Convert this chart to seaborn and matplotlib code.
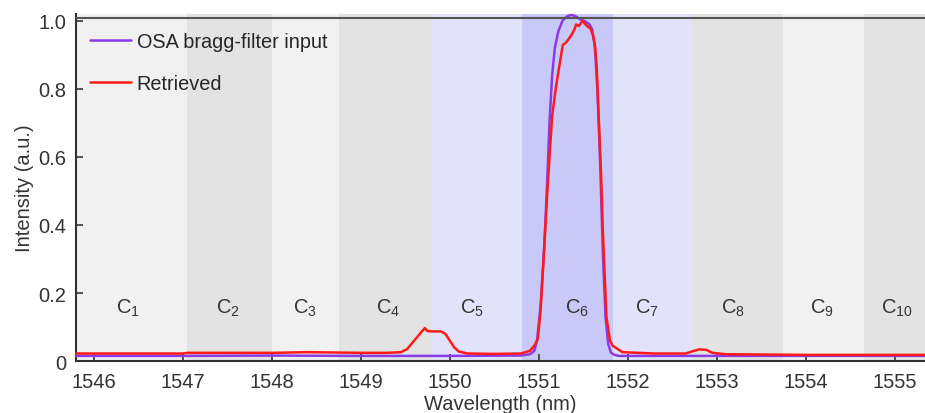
import numpy as np
import pandas as pd
import matplotlib
matplotlib.use("Agg")
import matplotlib.pyplot as plt
import seaborn as sns

# Spectra
osa_wl = [1545.80, 1547.0, 1548.0, 1549.0, 1550.0, 1550.80, 1550.90, 1550.95, 1550.98,
          1551.02, 1551.06, 1551.09, 1551.12, 1551.15, 1551.18, 1551.22, 1551.27, 1551.32,
          1551.37, 1551.42, 1551.46, 1551.52, 1551.57, 1551.60, 1551.63, 1551.66, 1551.69,
          1551.72, 1551.75, 1551.78, 1551.81, 1551.85, 1551.90, 1552.5, 1553.5, 1554.5,
          1555.34]
osa_int = [0.015, 0.015, 0.016, 0.015, 0.015, 0.016, 0.02, 0.03, 0.06,
           0.16, 0.33, 0.50, 0.70, 0.84, 0.92, 0.97, 1.003, 1.014,
           1.018, 1.013, 1.006, 0.999, 0.99, 0.975, 0.925, 0.79, 0.58,
           0.32, 0.13, 0.05, 0.025, 0.018, 0.015, 0.015, 0.015, 0.015,
           0.015]

ret_wl = [1545.80, 1547.0, 1547.05, 1548.0, 1548.4, 1549.0, 1549.3, 1549.45, 1549.52,
          1549.60, 1549.68, 1549.72, 1549.75, 1549.80, 1549.90, 1549.95, 1550.0, 1550.05,
          1550.10, 1550.20, 1550.5, 1550.80, 1550.90, 1550.95, 1550.99, 1551.02, 1551.05,
          1551.10, 1551.15, 1551.19, 1551.22, 1551.27, 1551.30, 1551.33, 1551.37, 1551.40,
          1551.42, 1551.45, 1551.49, 1551.54, 1551.58, 1551.61, 1551.63, 1551.65, 1551.67,
          1551.70, 1551.72, 1551.76, 1551.80, 1551.83, 1551.94, 1552.3, 1552.65, 1552.72,
          1552.80, 1552.88, 1552.95, 1553.1, 1554.0, 1555.34]
ret_int = [0.022, 0.022, 0.024, 0.024, 0.026, 0.024, 0.024, 0.026, 0.035,
           0.06, 0.085, 0.097, 0.088, 0.087, 0.087, 0.08, 0.06, 0.04,
           0.028, 0.022, 0.021, 0.022, 0.03, 0.045, 0.065, 0.15, 0.28,
           0.515, 0.72, 0.80, 0.85, 0.93, 0.935, 0.945, 0.96, 0.975,
           0.99, 0.985, 1.0, 0.986, 0.978, 0.957, 0.93, 0.87, 0.74,
           0.55, 0.38, 0.13, 0.06, 0.045, 0.026, 0.022, 0.022, 0.028,
           0.034, 0.033, 0.024, 0.02, 0.018, 0.018]

# WDM channels
channel_names = ["C$_{1}$", "C$_{2}$", "C$_{3}$", "C$_{4}$", "C$_{5}$",
                 "C$_{6}$", "C$_{7}$", "C$_{8}$", "C$_{9}$", "C$_{10}$"]
channel_edges = [1545.5, 1547.045, 1548.0, 1548.753, 1549.798, 1550.809,
                 1551.831, 1552.719, 1553.742, 1554.652, 1556.0]
channel_label_x = [1546.38, 1547.51, 1548.37, 1549.31, 1550.25,
                   1551.43, 1552.22, 1553.18, 1554.18, 1555.02]
channel_colors = ["#f1f1f1", "#e3e3e3", "#f1f1f1", "#e3e3e3", "#e2e2fb",
                  "#c9c9f7", "#e2e2fb", "#e3e3e3", "#f1f1f1", "#e3e3e3"]

sns.set_theme(style="white")
plt.rcParams['font.family'] = ['Liberation Sans', 'DejaVu Sans']
plt.rcParams['mathtext.default'] = 'regular'

fig = plt.figure(figsize=(9.25, 4.14), dpi=100)
ax = fig.add_axes([0.0822, 0.1256, 0.9178, 0.8377])

for i in range(len(channel_names)):
    ax.axvspan(channel_edges[i], channel_edges[i + 1], color=channel_colors[i], lw=0, zorder=0)
    ax.text(channel_label_x[i], 0.143, channel_names[i], ha='center', va='baseline',
            fontsize=14.5, color='#333333')

osa_df = pd.DataFrame({"wl": osa_wl, "intensity": osa_int})
ret_df = pd.DataFrame({"wl": ret_wl, "intensity": ret_int})

sns.lineplot(data=osa_df, x="wl", y="intensity", color="#8a3be6", lw=1.8,
             label="OSA bragg-filter input", ax=ax, clip_on=False, zorder=3)
sns.lineplot(data=ret_df, x="wl", y="intensity", color="#ff1a1a", lw=1.8,
             label="Retrieved", ax=ax, clip_on=False, zorder=4)

ax.set_xlim(1545.80, 1555.34)
ax.set_ylim(0, 1.02)
ax.axhline(1.009, color='#555555', lw=1.5, zorder=5)

ax.set_xticks(np.arange(1546, 1556))
ax.set_yticks([0, 0.2, 0.4, 0.6, 0.8, 1.0])
ax.set_yticklabels(["0", "0.2", "0.4", "0.6", "0.8", "1.0"])
ax.tick_params(axis='both', direction='in', length=5, width=1.2, colors='#333333',
               labelsize=14.5, labelcolor='#333333')
ax.tick_params(axis='x', pad=8, bottom=True)
ax.tick_params(axis='y', pad=7, left=True)

for side in ['top', 'right']:
    ax.spines[side].set_visible(False)
for side in ['left', 'bottom']:
    ax.spines[side].set_color('#333333')
    ax.spines[side].set_linewidth(1.5)

ax.set_xlabel("Wavelength (nm)", fontsize=14.5, color='#333333', labelpad=2)
ax.set_ylabel("Intensity (a.u.)", fontsize=14.5, color='#333333', labelpad=3)

ax.legend(loc='upper left', bbox_to_anchor=(0.0, 0.99), frameon=False, fontsize=14.3,
          handlelength=2.05, handletextpad=0.3, labelspacing=1.2, borderaxespad=0.3)

fig.savefig("out.png", dpi=100)
